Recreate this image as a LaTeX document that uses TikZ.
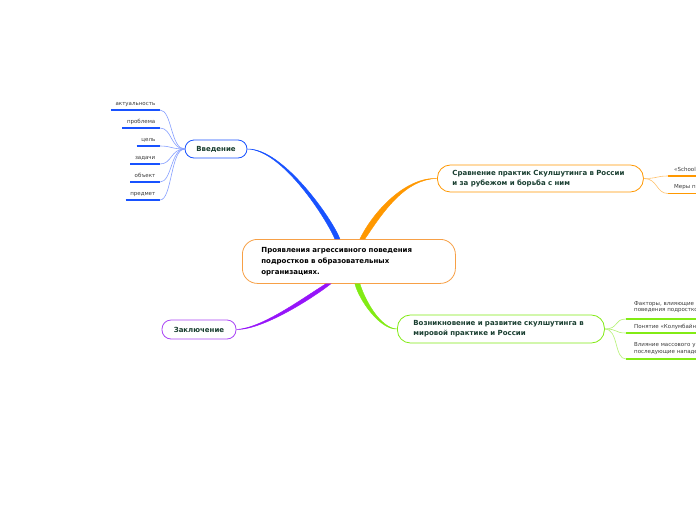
\documentclass[tikz,border=0pt]{standalone}
\usepackage{fontspec}
\setmainfont{DejaVu Sans}
\usepackage{tikz}
\usetikzlibrary{positioning}
\definecolor{mapblue}{RGB}{24, 82, 255}
\definecolor{mapbluelight}{RGB}{135, 160, 255}
\definecolor{maporange}{RGB}{255, 152, 0}
\definecolor{maporangelight}{RGB}{255, 195, 110}
\definecolor{mapgreen}{RGB}{130, 235, 20}
\definecolor{mapgreenlight}{RGB}{180, 242, 115}
\definecolor{mappurple}{RGB}{150, 20, 250}
\definecolor{mappurplerim}{RGB}{170, 70, 245}
\definecolor{corerim}{RGB}{247, 160, 70}
\definecolor{topictext}{RGB}{25, 62, 48}
\definecolor{leaftext}{RGB}{60, 60, 60}

\begin{document}
\begin{tikzpicture}[x=1pt, y=-1pt,
  topic/.style={draw, rounded corners=9pt, line width=0.8pt, fill=white, text=topictext, font=\fontsize{7}{10}\selectfont\bfseries},
  leaf/.style={inner xsep=4.5pt, inner ysep=3pt, text depth=1.5pt, text=leaftext, font=\fontsize{5.5}{6.5}\selectfont},
  twig/.style={line width=0.6pt},
  rule/.style={line width=1.5pt}]
\path[use as bounding box, fill=white] (0,0) rectangle (696,520);

% main idea
\node[topic, draw=corerim, text=black, rounded corners=15pt, anchor=north west, minimum width=213, minimum height=44, text width=175, inner xsep=19pt, align=left, font=\fontsize{7}{11}\selectfont\bfseries] (core) at (242,239) {Проявления агрессивного поведения\\подростков в образовательных\\организациях.};

% topics
\node[topic, draw=mapblue, minimum width=62, minimum height=18, inner sep=0pt] (intro) at (216,149) {Введение};
\node[topic, draw=maporange, rounded corners=13pt, anchor=west, minimum height=27, text width=176, inner xsep=15pt, align=left] (compare) at (437,178.5) {Сравнение практик Скулшутинга в России\\и за рубежом и борьба с ним};
\node[topic, draw=mapgreen, rounded corners=13pt, anchor=west, minimum height=28, text width=175, inner xsep=16pt, align=left] (origin) at (397,329) {Возникновение и развитие скулшутинга в\\мировой практике и России};
\node[topic, draw=mappurplerim, minimum width=74, minimum height=19, inner sep=0pt] (outro) at (199,329.5) {Заключение};

% branches
\fill[mapblue, draw=mapblue, line width=0.4pt] ([xshift=-14pt]core.north) .. controls (327,220) and (283,150) .. (intro.east) .. controls (283,148) and (333,220) .. ([xshift=-9pt]core.north) -- cycle;
\fill[maporange, draw=maporange, line width=0.4pt] ([xshift=11pt]core.north) .. controls (373,212) and (405,177) .. (compare.west) .. controls (405,179) and (383,212) .. ([xshift=16pt]core.north) -- cycle;
\fill[mapgreen, draw=mapgreen, line width=0.4pt] ([xshift=6pt]core.south) .. controls (359,300) and (380,330) .. (origin.west) .. controls (380,328) and (365,300) .. ([xshift=11pt]core.south) -- cycle;
\fill[mappurple, draw=mappurple, line width=0.4pt] ([xshift=-23pt]core.south) .. controls (300,300) and (262,328) .. (outro.east) .. controls (262,330) and (310,300) .. ([xshift=-18pt]core.south) -- cycle;

% intro leaves
\node[leaf, anchor=south east] (relevance) at (160,110) {актуальность};
\node[leaf, anchor=south east] (problem) at (160,128) {проблема};
\node[leaf, anchor=south east] (goal) at (160,146) {цель};
\node[leaf, anchor=south east] (tasks) at (160,164) {задачи};
\node[leaf, anchor=south east] (object) at (160,182) {объект};
\node[leaf, anchor=south east] (subject) at (160,200) {предмет};

\draw[rule, mapblue] (relevance.south west) -- (relevance.south east);
\draw[rule, mapblue] (problem.south west) -- (problem.south east);
\draw[rule, mapblue] (goal.south west) -- (goal.south east);
\draw[rule, mapblue] (tasks.south west) -- (tasks.south east);
\draw[rule, mapblue] (object.south west) -- (object.south east);
\draw[rule, mapblue] (subject.south west) -- (subject.south east);

\draw[twig, mapbluelight] (intro.west) .. controls +(-14,0) and +(12,0) .. (relevance.south east);
\draw[twig, mapbluelight] (intro.west) .. controls +(-14,0) and +(12,0) .. (problem.south east);
\draw[twig, mapbluelight] (intro.west) .. controls +(-14,0) and +(12,0) .. (goal.south east);
\draw[twig, mapbluelight] (intro.west) .. controls +(-14,0) and +(12,0) .. (tasks.south east);
\draw[twig, mapbluelight] (intro.west) .. controls +(-14,0) and +(12,0) .. (object.south east);
\draw[twig, mapbluelight] (intro.west) .. controls +(-14,0) and +(12,0) .. (subject.south east);

% compare leaves
\node[leaf, anchor=south west, inner xsep=6pt, text width=60, align=left] (school) at (668,176) {«School};
\node[leaf, anchor=south west, inner xsep=6pt, text width=60, align=left] (measures) at (668,193.5) {Меры пр};
\draw[rule, maporange] (school.south west) -- (school.south east);
\draw[rule, maporange] (measures.south west) -- (measures.south east);
\draw[twig, maporangelight] (compare.east) .. controls +(14,0) and +(-12,0) .. (school.south west);
\draw[twig, maporangelight] (compare.east) .. controls +(14,0) and +(-12,0) .. (measures.south west);

% origin leaves
\node[leaf, anchor=south west, inner xsep=8pt, text width=70, align=left, text depth=10.5pt] (factors) at (626,319) {Факторы, влияющие н\\поведения подростко};
\node[leaf, anchor=south west, inner xsep=8pt, text width=70, align=left] (columbine) at (626,333) {Понятие «Колумбайн»};
\node[leaf, anchor=south west, inner xsep=8pt, text width=70, align=left, text depth=9pt] (impact) at (626,359) {Влияние массового у\\последующие нападе};
\draw[rule, mapgreen] (factors.south west) -- (factors.south east);
\draw[rule, mapgreen] (columbine.south west) -- (columbine.south east);
\draw[rule, mapgreen] (impact.south west) -- (impact.south east);
\draw[twig, mapgreenlight] (origin.east) .. controls +(14,0) and +(-12,0) .. (factors.south west);
\draw[twig, mapgreenlight] (origin.east) .. controls +(14,0) and +(-12,0) .. (columbine.south west);
\draw[twig, mapgreenlight] (origin.east) .. controls +(14,0) and +(-12,0) .. (impact.south west);
\end{tikzpicture}
\end{document}
